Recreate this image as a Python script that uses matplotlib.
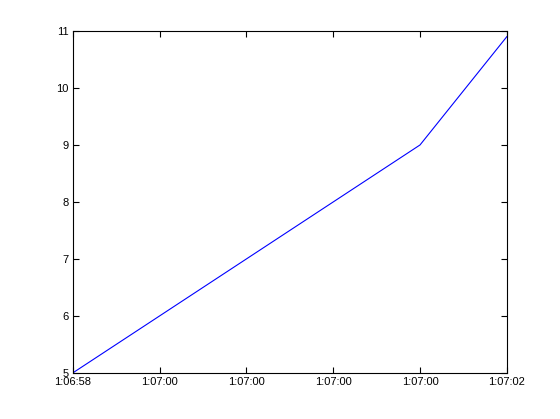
import numpy as np
import matplotlib
matplotlib.use("Agg")
import matplotlib.pyplot as plt

# seconds after 1:06:58
t = [0.0, 0.8, 1.6, 2.4, 3.2, 4.0]
vals = [5, 6, 7, 8, 9, 10.9]
tick_pos = [0.0, 0.8, 1.6, 2.4, 3.2, 4.0]
tick_labels = ["1:06:58", "1:07:00", "1:07:00", "1:07:00", "1:07:00", "1:07:02"]

plt.rcParams['font.family'] = ['Liberation Sans', 'DejaVu Sans']

fig = plt.figure(figsize=(5.6, 4.19), dpi=100)
ax = fig.add_axes([0.13, 0.11, 0.775, 0.816])
ax.plot(t, vals, color="#0000ff", linewidth=0.8)

ax.set_xlim(0, 4)
ax.set_ylim(5, 11)
ax.set_xticks(tick_pos)
ax.set_xticklabels(tick_labels)
ax.set_yticks(range(5, 12))
ax.tick_params(direction="in", top=True, right=True, length=4, width=0.8,
               labelsize=8, pad=3)
for s in ax.spines.values():
    s.set_linewidth(0.8)

fig.savefig("out.png", dpi=100)
